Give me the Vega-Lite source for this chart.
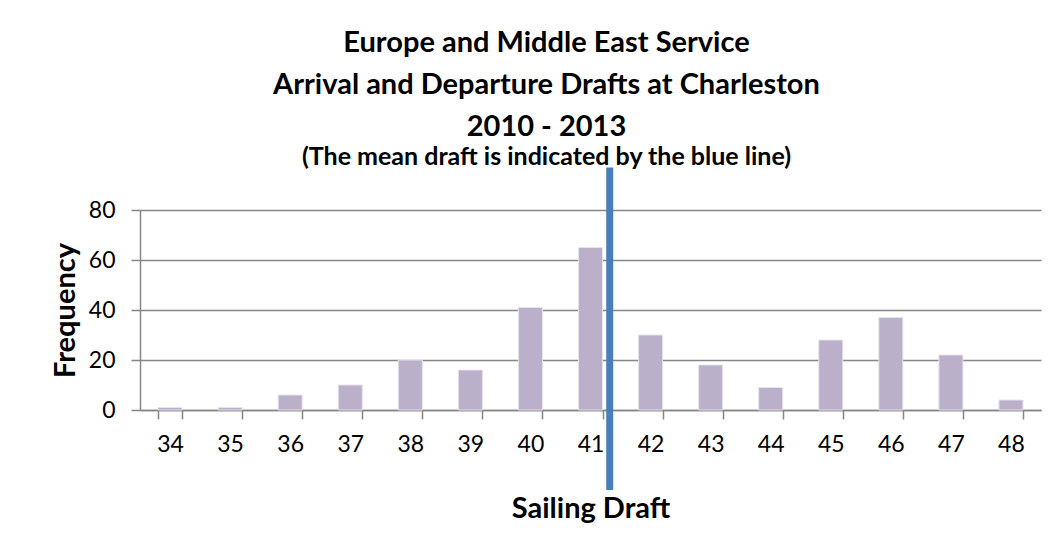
{
  "$schema": "https://vega.github.io/schema/vega-lite/v6.json",
  "autosize": "none",
  "width": 901,
  "height": 200,
  "padding": {"left": 140, "top": 210, "right": 19, "bottom": 127},
  "background": "white",
  "title": {
    "text": ["Europe and Middle East Service", "Arrival and Departure Drafts at Charleston", "2010 - 2013"],
    "subtitle": "(The mean draft is indicated by the blue line)",
    "font": "Lato",
    "fontSize": 29,
    "fontWeight": "bold",
    "lineHeight": 42,
    "color": "#000000",
    "subtitleFont": "Lato",
    "subtitleFontSize": 25,
    "subtitleFontWeight": "bold",
    "subtitleColor": "#000000",
    "subtitlePadding": 3,
    "anchor": "middle",
    "dx": -44,
    "offset": -6
  },
  "config": {
    "view": {"stroke": null},
    "axis": {
      "labelFont": "Lato",
      "labelFontSize": 23,
      "labelColor": "#000000",
      "titleFont": "Lato",
      "titleFontSize": 29,
      "titleFontWeight": "bold",
      "titleColor": "#000000",
      "domainColor": "#868686",
      "tickColor": "#868686",
      "gridColor": "#868686",
      "domainWidth": 1.5,
      "tickWidth": 1.5,
      "gridWidth": 1.5
    }
  },
  "layer": [
    {
      "data": {
        "values": [
          {"draft": 34, "frequency": 1},
          {"draft": 35, "frequency": 1},
          {"draft": 36, "frequency": 6},
          {"draft": 37, "frequency": 10},
          {"draft": 38, "frequency": 20},
          {"draft": 39, "frequency": 16},
          {"draft": 40, "frequency": 41},
          {"draft": 41, "frequency": 65},
          {"draft": 42, "frequency": 30},
          {"draft": 43, "frequency": 18},
          {"draft": 44, "frequency": 9},
          {"draft": 45, "frequency": 28},
          {"draft": 46, "frequency": 37},
          {"draft": 47, "frequency": 22},
          {"draft": 48, "frequency": 4}
        ]
      },
      "mark": {"type": "bar", "color": "#BAB0CA", "stroke": "#E6E2EE", "strokeWidth": 1},
      "encoding": {
        "x": {
          "field": "draft",
          "type": "ordinal",
          "scale": {"paddingInner": 0.6, "paddingOuter": 0.3},
          "axis": {
            "title": "Sailing Draft",
            "labelAngle": 0,
            "labelFontSize": 23,
            "tickBand": "extent",
            "tickSize": 9,
            "labelPadding": 14,
            "titleY": 84
          }
        },
        "y": {
          "field": "frequency",
          "type": "quantitative",
          "scale": {"domain": [0, 80], "nice": false},
          "axis": {
            "title": "Frequency",
            "values": [0, 20, 40, 60, 80],
            "labelFontSize": 23,
            "tickSize": 9,
            "labelPadding": 16,
            "titleX": -60
          }
        }
      }
    },
    {
      "data": {"values": [{"mean": 41.32}]},
      "mark": {"type": "rule", "color": "#4A7EBB", "strokeWidth": 7},
      "encoding": {
        "x": {
          "field": "mean",
          "type": "quantitative",
          "scale": {"domain": [33.5, 48.5], "nice": false, "zero": false},
          "axis": null
        },
        "y": {"datum": 97},
        "y2": {"datum": -32}
      }
    }
  ],
  "resolve": {"scale": {"x": "independent"}}
}
